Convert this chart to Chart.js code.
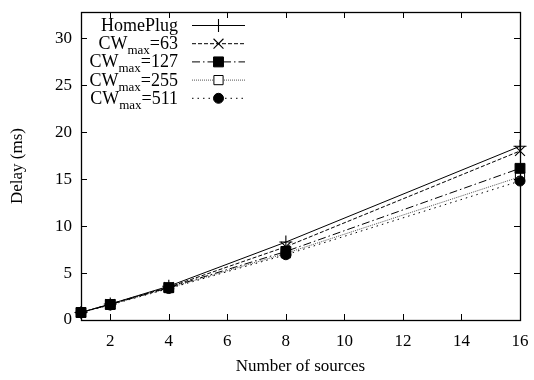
<!DOCTYPE html>
<html>
<head>
<meta charset="utf-8">
<script src="https://cdn.jsdelivr.net/npm/chart.js@4/dist/chart.umd.min.js"></script>
<style>
  html, body { margin: 0; padding: 0; background: #fff; }
  #wrap { width: 534px; height: 380px; }
</style>
</head>
<body>
<div id="wrap"><canvas id="c" width="534" height="380"></canvas></div>
<script>
// Number of sources on the x axis
const sources = [1, 2, 4, 8, 16];

// Mean delay in ms for each scheme
const homePlug = [0.8, 1.7, 3.6, 8.3, 18.5];
const cw63     = [0.8, 1.7, 3.5, 7.8, 18.0];
const cw127    = [0.8, 1.65, 3.45, 7.3, 16.15];
const cw255    = [0.8, 1.65, 3.4, 7.1, 15.25];
const cw511    = [0.8, 1.6, 3.35, 6.95, 14.8];

// Series names: main text plus optional subscript and suffix
const seriesNames = [
  { main: 'HomePlug', sub: '', tail: '' },
  { main: 'CW', sub: 'max', tail: '=63' },
  { main: 'CW', sub: 'max', tail: '=127' },
  { main: 'CW', sub: 'max', tail: '=255' },
  { main: 'CW', sub: 'max', tail: '=511' }
];

const xTicks = [2, 4, 6, 8, 10, 12, 14, 16];
const yTicks = [0, 5, 10, 15, 20, 25, 30];

const FONT = 'Liberation Serif, "Times New Roman", serif';

const styles = [
  { dash: [], color: '#000', point: 'cross', radius: 6.5, fill: false, bw: 1.1 },
  { dash: [4, 2], color: '#000', point: 'crossRot', radius: 7, fill: false, bw: 1.1 },
  { dash: [8, 3, 1.5, 3], color: '#000', point: 'rect', radius: 7, fill: true, bw: 1 },
  { dash: [1, 1], color: '#555', point: 'rect', radius: 6.5, fill: false, bw: 1 },
  { dash: [1.5, 4], color: '#000', point: 'circle', radius: 5, fill: true, bw: 1 }
];

const seriesValues = [homePlug, cw63, cw127, cw255, cw511];

const datasets = seriesValues.map((vals, i) => {
  const s = styles[i];
  return {
    label: seriesNames[i].main + seriesNames[i].sub + seriesNames[i].tail,
    data: sources.map((x, k) => ({ x: x, y: vals[k] })),
    borderColor: s.color,
    borderWidth: 1,
    borderDash: s.dash,
    pointStyle: s.point,
    pointRadius: s.radius,
    pointBorderColor: '#000',
    pointBorderWidth: s.bw,
    pointBackgroundColor: s.fill ? '#000' : 'rgba(255,255,255,0)',
    tension: 0,
    clip: false
  };
});

// Inward ticks on all four sides of the frame, plus the frame itself
const frameTicks = {
  id: 'frameTicks',
  afterDatasetsDraw(chart) {
    const { ctx, chartArea: a, scales } = chart;
    ctx.save();
    ctx.strokeStyle = '#000';
    ctx.lineWidth = 1;
    ctx.setLineDash([]);
    ctx.beginPath();
    const L = 6;
    scales.x.ticks.forEach(t => {
      const px = Math.round(scales.x.getPixelForValue(t.value)) + 0.5;
      ctx.moveTo(px, a.bottom); ctx.lineTo(px, a.bottom - L);
      ctx.moveTo(px, a.top); ctx.lineTo(px, a.top + L);
    });
    scales.y.ticks.forEach(t => {
      const py = Math.round(scales.y.getPixelForValue(t.value)) + 0.5;
      ctx.moveTo(a.left, py); ctx.lineTo(a.left + L, py);
      ctx.moveTo(a.right, py); ctx.lineTo(a.right - L, py);
    });
    ctx.stroke();
    ctx.lineWidth = 1.3;
    ctx.strokeRect(Math.round(a.left) + 0.5, Math.round(a.top) + 0.5,
                   Math.round(a.right - a.left), Math.round(a.bottom - a.top));
    ctx.restore();
  }
};

// Key in the upper left corner: right-aligned names, line sample with marker
const keyBox = {
  id: 'keyBox',
  afterDraw(chart) {
    const { ctx } = chart;
    const textRight = 178;
    const lineX0 = 192, lineX1 = 245;
    const rowY0 = 25, rowGap = 18.2;
    ctx.save();
    chart.data.datasets.forEach((ds, i) => {
      const y = rowY0 + i * rowGap;
      const n = seriesNames[i];
      const mainFont = '18px ' + FONT;
      const subFont = '13px ' + FONT;
      ctx.fillStyle = '#000';
      ctx.textBaseline = 'alphabetic';
      ctx.textAlign = 'left';
      ctx.font = mainFont;
      const wMain = ctx.measureText(n.main).width;
      const wTail = ctx.measureText(n.tail).width;
      ctx.font = subFont;
      const wSub = n.sub ? ctx.measureText(n.sub).width : 0;
      let x = textRight - (wMain + wSub + wTail);
      const base = y + 6;
      ctx.font = mainFont;
      ctx.fillText(n.main, x, base);
      x += wMain;
      if (n.sub) {
        ctx.font = subFont;
        ctx.fillText(n.sub, x, base + 5);
        x += wSub;
      }
      ctx.font = mainFont;
      ctx.fillText(n.tail, x, base);

      const s = styles[i];
      ctx.strokeStyle = s.color;
      ctx.lineWidth = 1;
      ctx.setLineDash(s.dash);
      ctx.beginPath();
      ctx.moveTo(lineX0, y + 0.5);
      ctx.lineTo(lineX1, y + 0.5);
      ctx.stroke();
      ctx.setLineDash([]);
      ctx.strokeStyle = '#000';
      ctx.lineWidth = s.bw;
      ctx.fillStyle = s.fill ? '#000' : '#fff';
      Chart.helpers.drawPoint(ctx, {
        pointStyle: s.point, radius: s.radius, borderWidth: s.bw, rotation: 0
      }, (lineX0 + lineX1) / 2, y + 0.5);
    });
    ctx.restore();
  }
};

// Keep the plot frame where the layout padding puts it
function noEdgePadding(s) {
  s.paddingTop = 0; s.paddingBottom = 0; s.paddingLeft = 0; s.paddingRight = 0;
}

new Chart(document.getElementById('c'), {
  type: 'line',
  data: { datasets },
  plugins: [frameTicks, keyBox],
  options: {
    responsive: false,
    animation: false,
    layout: { padding: { top: 12, right: 14, left: 0, bottom: 0 } },
    plugins: { legend: { display: false }, tooltip: { enabled: false } },
    scales: {
      x: {
        type: 'linear',
        min: 1, max: 16,
        afterBuildTicks: s => { s.ticks = xTicks.map(v => ({ value: v })); },
        afterFit: s => { s.height = 60; noEdgePadding(s); },
        grid: { display: false, drawTicks: false },
        border: { display: false },
        ticks: { color: '#000', font: { family: FONT, size: 17 }, padding: 11, maxRotation: 0 },
        title: { display: true, text: 'Number of sources', color: '#000',
                 font: { family: FONT, size: 17 }, padding: { top: 0, bottom: 3 } }
      },
      y: {
        type: 'linear',
        min: 0, max: 32.8,
        afterBuildTicks: s => { s.ticks = yTicks.map(v => ({ value: v })); },
        afterFit: s => { s.width = 81; noEdgePadding(s); },
        grid: { display: false, drawTicks: false },
        border: { display: false },
        ticks: { color: '#000', font: { family: FONT, size: 17 }, padding: 9 },
        title: { display: true, text: 'Delay (ms)', color: '#000',
                 font: { family: FONT, size: 17 }, padding: { top: 7, bottom: 0 } }
      }
    }
  }
});
</script>
</body>
</html>
